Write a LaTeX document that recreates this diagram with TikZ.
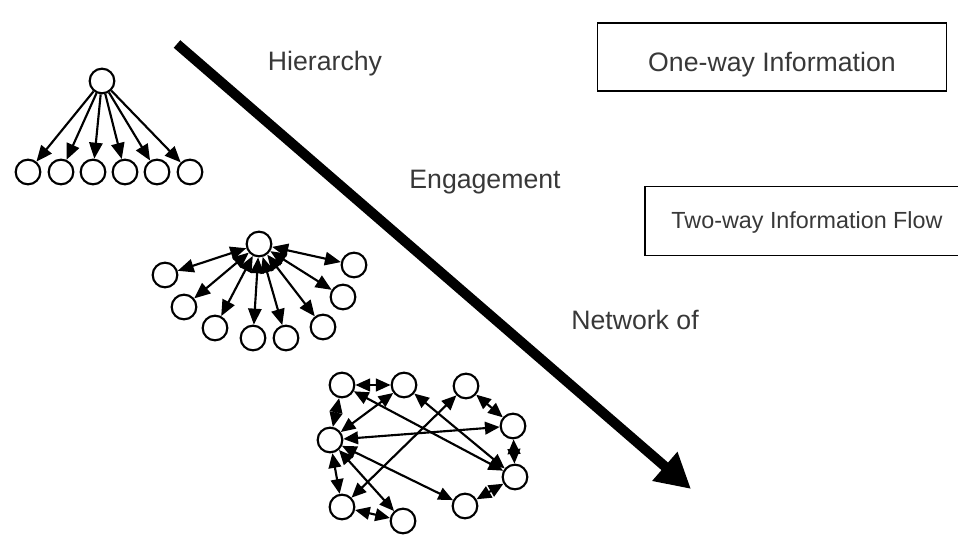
\documentclass[tikz,border=0pt]{standalone}
\usepackage{fontspec}
\setmainfont{Liberation Sans}
\usetikzlibrary{arrows.meta}

\begin{document}
\begin{tikzpicture}[x=0.75pt,y=-0.75pt,>={Triangle[length=12pt,width=10pt]},
  pers/.style={shape=circle,draw,line width=1.6pt,minimum size=18.5pt,inner sep=0pt},
  link/.style={line width=1.6pt},
  lbl/.style={text=black!78,font=\fontsize{20}{24}\selectfont},
  panel/.style={draw,line width=0.8pt,inner sep=0pt,text=black!78}]
\useasboundingbox (0,0) rectangle (958,538);
\clip (0,0) rectangle (958,538);

% trend arrow
\coordinate (top) at (177,44);
\coordinate (bot) at (691,489);
\draw [line width=7.5pt,-{Triangle[length=26pt,width=27pt]}] (top) -- (bot);

% labels and boxes
\node (hier) at (325,64) [lbl] {Hierarchy};
\node (eng) at (485,182) [lbl] {Engagement};
\node (net) at (635,320) [lbl] {Network of};
\node (oneway) at (772,57) [panel,lbl,minimum width=262pt,minimum height=51pt,
  text height=24pt,text depth=1.5pt] {One-way Information};
\node (twoway) at (807,221) [panel,minimum width=243pt,minimum height=52pt,
  text height=13pt,text depth=1pt,font=\fontsize{17.5}{21}\selectfont] {Two-way Information Flow};

% hierarchy
\node (h0) at (102, 81) [pers] {};
\node (h1) at ( 28,172) [pers] {};
\node (h2) at ( 61,172) [pers] {};
\node (h3) at ( 93,172) [pers] {};
\node (h4) at (125,172) [pers] {};
\node (h5) at (157,172) [pers] {};
\node (h6) at (190,172) [pers] {};
\draw [link,->] (h0) -- (h1);
\draw [link,->] (h0) -- (h2);
\draw [link,->] (h0) -- (h3);
\draw [link,->] (h0) -- (h4);
\draw [link,->] (h0) -- (h5);
\draw [link,->] (h0) -- (h6);

% engagement
\node (e0) at (259,244) [pers] {};
\node (e1) at (165,275) [pers] {};
\node (e2) at (184,307) [pers] {};
\node (e3) at (215,328) [pers] {};
\node (e4) at (253,338) [pers] {};
\node (e5) at (286,338) [pers] {};
\node (e6) at (323,327) [pers] {};
\node (e7) at (343,297) [pers] {};
\node (e8) at (354,265) [pers] {};
\draw [link,<->] (e0) -- (e1);
\draw [link,<->] (e0) -- (e2);
\draw [link,<->] (e0) -- (e3);
\draw [link,<->] (e0) -- (e4);
\draw [link,<->] (e0) -- (e5);
\draw [link,<->] (e0) -- (e6);
\draw [link,<->] (e0) -- (e7);
\draw [link,<->] (e0) -- (e8);

% network
\begin{scope}[>={Triangle[length=11pt,width=9.5pt]},every node/.style={minimum size=19.5pt}]
\node (na) at (342,385) [pers] {};
\node (nb) at (404,385) [pers] {};
\node (nc) at (466,386) [pers] {};
\node (nd) at (330,440) [pers] {};
\node (ne) at (513,426) [pers] {};
\node (nf) at (515,477) [pers] {};
\node (ng) at (342,507) [pers] {};
\node (nh) at (403,521) [pers] {};
\node (ni) at (465,506) [pers] {};
\draw [link,<->] (na) -- (nb);
\draw [link,<->] (na) -- (nd);
\draw [link,<->] (nd) -- (ng);
\draw [link,<->] (ng) -- (nh);
\draw [link,<->] (nc) -- (ne);
\draw [link,<->] (ne) -- (nf);
\draw [link,<->] (nf) -- (ni);
\draw [link,<->] (nb) -- (nd);
\draw [link,<->] (na) -- (nf);
\draw [link,<->] (nb) -- (nf);
\draw [link,<->] (nd) -- (ne);
\draw [link,<->] (nc) -- (ng);
\draw [link,<->] (nd) -- (ni);
\draw [link,<->] (nd) -- (nh);
\end{scope}
\end{tikzpicture}
\end{document}
